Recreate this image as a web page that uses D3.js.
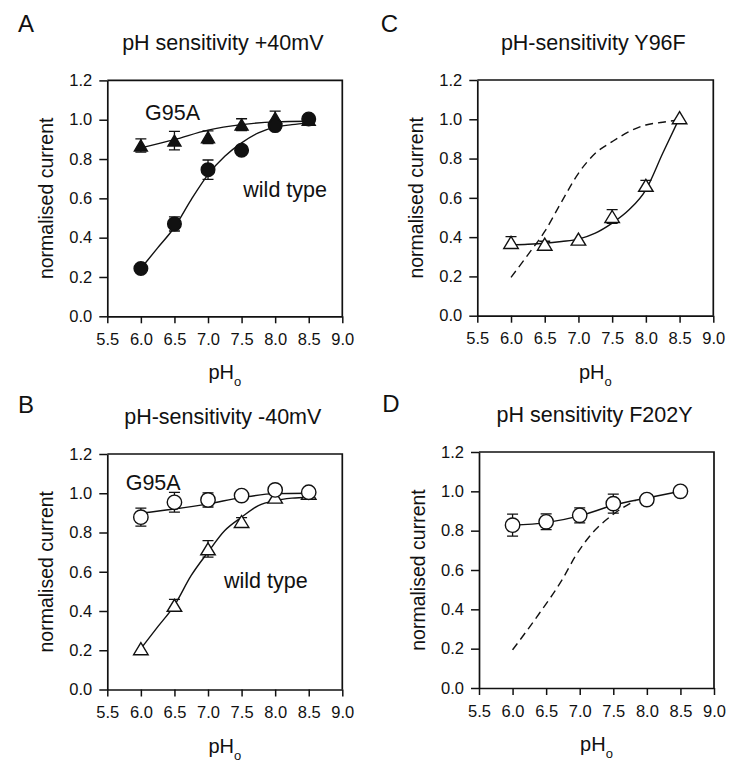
<!DOCTYPE html>
<html>
<head>
<meta charset="utf-8">
<script src="https://cdn.jsdelivr.net/npm/d3@7"></script>
<style>
html, body { margin: 0; padding: 0; background: #fff; }
svg { display: block; }
text { font-family: "Liberation Sans", Arial, Helvetica, sans-serif; fill: #111; }
</style>
</head>
<body>
<svg id="chart" width="738" height="765"></svg>
<script>
// ---------- shared axis data ----------
const xTicks = [5.5, 6.0, 6.5, 7.0, 7.5, 8.0, 8.5, 9.0];
const yTicks = [0.0, 0.2, 0.4, 0.6, 0.8, 1.0, 1.2];
const pH = [6.0, 6.5, 7.0, 7.5, 8.0, 8.5];
const fitPH = [6.0, 6.25, 6.5, 6.75, 7.0, 7.25, 7.5, 7.75, 8.0, 8.25, 8.5];

// ---------- panel A : +40 mV ----------
const aG95A    = [0.869, 0.894, 0.911, 0.975, 1.009, 1.000];
const aG95AErr = [0.034, 0.047, 0.032, 0.030, 0.035, 0.0];
const aWT      = [0.243, 0.470, 0.746, 0.845, 0.970, 1.004];
const aWTErr   = [0.0, 0.036, 0.049, 0.020, 0.020, 0.0];
const aG95AFitPH = [6.0, 6.5, 7.0, 7.5, 8.0, 8.5];
const aG95AFit = [0.857, 0.899, 0.947, 0.975, 0.989, 0.992];
const aWTFit   = [0.243, 0.348, 0.453, 0.594, 0.721, 0.814, 0.882, 0.933, 0.962, 0.975, 0.984];

// ---------- panel B : -40 mV ----------
const bG95A    = [0.878, 0.954, 0.966, 0.988, 1.017, 1.005];
const bG95AErr = [0.046, 0.050, 0.036, 0.020, 0.020, 0.020];
const bWT      = [0.208, 0.429, 0.717, 0.856, 0.980, 1.000];
const bWTErr   = [0.0, 0.030, 0.042, 0.020, 0.020, 0.0];
const bG95AFitPH = [6.0, 6.5, 7.0, 7.5, 8.0, 8.5];
const bG95AFit = [0.898, 0.920, 0.946, 0.978, 0.998, 1.000];
const bWTFit   = [0.208, 0.319, 0.429, 0.581, 0.700, 0.810, 0.878, 0.937, 0.963, 0.975, 0.980];

// ---------- panel C : Y96F ----------
const cY96F    = [0.373, 0.364, 0.390, 0.505, 0.664, 1.008];
const cY96FErr = [0.030, 0.015, 0.0, 0.035, 0.025, 0.0];
const cY96FFit = [0.361, 0.364, 0.369, 0.378, 0.390, 0.420, 0.471, 0.539, 0.641, 0.827, 1.008];
const cWTDash  = [0.195, 0.310, 0.429, 0.580, 0.725, 0.827, 0.886, 0.937, 0.971, 0.985, 0.997];

// ---------- panel D : F202Y ----------
const dF202Y    = [0.828, 0.845, 0.878, 0.9375, 0.958, 1.000];
const dF202YErr = [0.056, 0.040, 0.038, 0.048, 0.025, 0.0];
const dFitPH    = [6.0, 6.5, 7.0, 7.5, 8.0, 8.5];
const dF202YFit = [0.828, 0.841, 0.875, 0.929, 0.966, 1.000];
const dDashPH   = [6.0, 6.4, 6.75, 6.93, 7.18, 7.48, 7.83];
const dWTDash   = [0.194, 0.380, 0.557, 0.667, 0.785, 0.878, 0.954];

// ---------- panel definitions ----------
const panels = [
  { letter: "A", title: "pH sensitivity +40mV", box: [107.3, 80.4, 342.3, 316.3], letterPos: [18, 32],
    series: [
      { x: pH, y: aG95A, err: aG95AErr, marker: "triangle", fill: true },
      { x: pH, y: aWT, err: aWTErr, marker: "circle", fill: true }
    ],
    curves: [
      { x: aG95AFitPH, y: aG95AFit, dash: false },
      { x: fitPH, y: aWTFit, dash: false }
    ],
    notes: [ { t: "G95A", x: 145, y: 119.7 }, { t: "wild type", x: 243.3, y: 197 } ] },
  { letter: "C", title: "pH-sensitivity Y96F", box: [477.3, 80.0, 713.3, 315.7], letterPos: [380.7, 31.7],
    series: [ { x: pH, y: cY96F, err: cY96FErr, marker: "triangle", fill: false } ],
    curves: [
      { x: fitPH, y: cWTDash, dash: true },
      { x: fitPH, y: cY96FFit, dash: false }
    ],
    notes: [] },
  { letter: "B", title: "pH-sensitivity -40mV", box: [107.3, 454.0, 342.3, 689.5], letterPos: [18, 413],
    series: [
      { x: pH, y: bWT, err: bWTErr, marker: "triangle", fill: false },
      { x: pH, y: bG95A, err: bG95AErr, marker: "circle", fill: false }
    ],
    curves: [
      { x: bG95AFitPH, y: bG95AFit, dash: false },
      { x: fitPH, y: bWTFit, dash: false }
    ],
    notes: [ { t: "G95A", x: 125.7, y: 490.3 }, { t: "wild type", x: 224, y: 588 } ] },
  { letter: "D", title: "pH sensitivity F202Y", box: [479.0, 452.0, 714.0, 688.0], letterPos: [382.3, 411.7],
    series: [ { x: pH, y: dF202Y, err: dF202YErr, marker: "circle", fill: false } ],
    curves: [
      { x: dDashPH, y: dWTDash, dash: true },
      { x: dFitPH, y: dF202YFit, dash: false }
    ],
    notes: [] }
];

const svg = d3.select("#chart");
svg.append("rect").attr("width", 738).attr("height", 765).attr("fill", "#fff");

function triPath(w, h) {
  return `M0,${-h/2}L${w/2},${h/2}L${-w/2},${h/2}Z`;
}

panels.forEach(p => {
  const [x0, y0, x1, y1] = p.box;
  const x = d3.scaleLinear().domain([5.5, 9.0]).range([x0, x1]);
  const y = d3.scaleLinear().domain([0, 1.2]).range([y1, y0]);
  const g = svg.append("g");

  // panel letter
  g.append("text").attr("x", p.letterPos[0]).attr("y", p.letterPos[1])
    .attr("font-size", 24).text(p.letter);

  // title
  g.append("text").attr("x", (x0 + x1) / 2 - 2).attr("y", y0 - 30.5)
    .attr("text-anchor", "middle").attr("font-size", 21.5).text(p.title);

  // frame (top & right)
  g.append("path")
    .attr("d", `M${x0},${y0}H${x1}V${y1}`)
    .attr("fill", "none").attr("stroke", "#111").attr("stroke-width", 1.7);

  // axes
  const ax = g.append("g").attr("transform", `translate(0,${y1})`)
    .call(d3.axisBottom(x).tickValues(xTicks).tickFormat(d3.format(".1f"))
      .tickSize(7).tickSizeOuter(0).tickPadding(10));
  const ay = g.append("g").attr("transform", `translate(${x0},0)`)
    .call(d3.axisLeft(y).tickValues(yTicks).tickFormat(d3.format(".1f"))
      .tickSize(8).tickSizeOuter(0).tickPadding(7));
  [ax, ay].forEach(a => {
    a.select(".domain").attr("stroke", "#111").attr("stroke-width", 1.7);
    a.selectAll(".tick line").attr("stroke", "#111").attr("stroke-width", 1.5);
    a.selectAll(".tick text").attr("font-size", 16.5)
      .attr("font-family", "\"Liberation Sans\", Arial, sans-serif").attr("fill", "#1a1a1a");
  });

  // y label
  g.append("text")
    .attr("transform", `translate(${x0 - 54},${(y0 + y1) / 2}) rotate(-90)`)
    .attr("text-anchor", "middle").attr("font-size", 19.5).text("normalised current");

  // x label pH_o
  const xl = g.append("text").attr("x", (x0 + x1) / 2).attr("y", y1 + 63)
    .attr("text-anchor", "middle").attr("font-size", 20);
  xl.append("tspan").text("pH");
  xl.append("tspan").attr("font-size", 13).attr("dy", 7).text("o");

  // curves
  p.curves.forEach(c => {
    const line = d3.line().x((d, i) => x(c.x[i])).y((d, i) => y(c.y[i]))
      .curve(d3.curveMonotoneX);
    g.append("path").datum(c.y).attr("d", line)
      .attr("fill", "none").attr("stroke", "#111").attr("stroke-width", 1.4)
      .attr("stroke-dasharray", c.dash ? "8,5" : null);
  });

  // error bars + markers
  p.series.forEach(s => {
    s.y.forEach((v, i) => {
      const e = s.err[i];
      if (e > 0) {
        const cx = x(s.x[i]);
        g.append("path")
          .attr("d", `M${cx},${y(v - e)}V${y(v + e)}M${cx - 5.5},${y(v + e)}H${cx + 5.5}M${cx - 5.5},${y(v - e)}H${cx + 5.5}`)
          .attr("stroke", "#111").attr("stroke-width", 1.3).attr("fill", "none");
      }
    });
    s.y.forEach((v, i) => {
      const cx = x(s.x[i]), cy = y(v);
      if (s.marker === "circle") {
        g.append("circle").attr("cx", cx).attr("cy", cy).attr("r", s.fill ? 6.8 : 7.2)
          .attr("fill", s.fill ? "#111" : "#fff").attr("stroke", "#111").attr("stroke-width", 1.4);
      } else {
        g.append("path").attr("d", s.fill ? triPath(13, 11) : triPath(14.5, 12))
          .attr("transform", `translate(${cx},${cy})`)
          .attr("fill", s.fill ? "#111" : "#fff").attr("stroke", "#111").attr("stroke-width", 1.4);
      }
    });
  });

  // annotations
  p.notes.forEach(n => {
    g.append("text").attr("x", n.x).attr("y", n.y).attr("font-size", 21.5).text(n.t);
  });
});
</script>
</body>
</html>
